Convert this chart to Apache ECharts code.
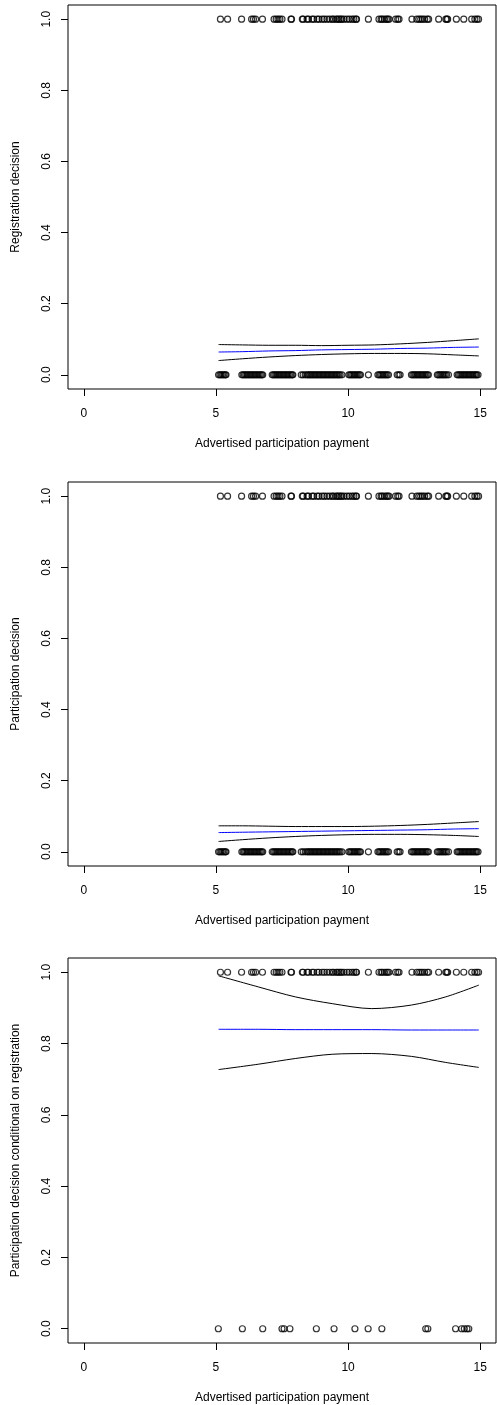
<!DOCTYPE html>
<html>
<head>
<meta charset="utf-8">
<script src="https://cdn.jsdelivr.net/npm/echarts@6/dist/echarts.min.js"></script>
<style>
html,body{margin:0;padding:0;background:#fff;}
#chart{width:497px;height:1405px;}
</style>
</head>
<body>
<div id="chart"></div>
<script>
// ---- data ----
const xTicks = [0, 5, 10, 15];
const yTicks = [0, 0.2, 0.4, 0.6, 0.8, 1.0];
const xTitle = "Advertised participation payment";
const yTitles = ["Registration decision", "Participation decision", "Participation decision conditional on registration"];

// x of observations with outcome 1 (registered / participated)
const onesX = [5.17, 5.44, 5.97, 6.35, 6.42, 6.5, 6.76, 7.2, 7.28, 7.35, 7.42, 7.5, 7.84, 7.86,
  8.27, 8.3, 8.45, 8.5, 8.64, 8.7, 8.83, 8.9, 9.02, 9.1, 9.2, 9.3, 9.4, 9.45, 9.55, 9.6, 9.66, 9.72, 9.77, 9.85, 9.96, 10.05, 10.15, 10.22, 10.3, 10.32,
  10.77, 11.17, 11.25, 11.3, 11.38, 11.45, 11.5, 11.55, 11.8, 11.88, 11.93,
  12.42, 12.6, 12.68, 12.75, 12.82, 12.9, 13.0, 13.05, 13.43, 13.7, 13.74, 13.77, 14.1, 14.38, 14.68, 14.8, 14.88, 14.94];

// x of observations with outcome 0 (panels 1 and 2)
const zerosX = [5.1, 5.15, 5.2, 5.25, 5.3, 5.35, 5.38,
  5.98, 6.03, 6.08, 6.13, 6.18, 6.23, 6.28, 6.33, 6.38, 6.43, 6.48, 6.53, 6.58, 6.63, 6.68, 6.73, 6.77,
  7.13, 7.18, 7.23, 7.28, 7.33, 7.38, 7.43, 7.48, 7.53, 7.58, 7.63, 7.68, 7.73, 7.78, 7.83, 7.88, 7.91,
  8.23, 8.3, 8.38, 8.45, 8.5, 8.55, 8.6, 8.65, 8.7, 8.75, 8.8, 8.85, 8.9, 8.95, 9.0, 9.05, 9.1, 9.15, 9.2, 9.25,
  9.3, 9.35, 9.4, 9.45, 9.5, 9.55, 9.6, 9.65, 9.7, 9.77,
  10.03, 10.08, 10.13, 10.18, 10.23, 10.28, 10.33, 10.38, 10.43, 10.47,
  10.77,
  11.13, 11.18, 11.23, 11.28, 11.33, 11.38, 11.43, 11.48, 11.53,
  11.86, 11.92, 11.97,
  12.4, 12.45, 12.5, 12.55, 12.6, 12.65, 12.7, 12.75, 12.8, 12.85, 12.9, 12.95, 13.0, 13.04,
  13.38, 13.43, 13.48, 13.53, 13.58, 13.63, 13.68, 13.73, 13.8,
  14.13, 14.18, 14.23, 14.28, 14.33, 14.38, 14.43, 14.48, 14.53, 14.58, 14.63, 14.68, 14.73, 14.78, 14.83, 14.87, 14.92];

// x of registered observations that did not participate (panel 3)
const condZerosX = [5.09, 6.0, 6.77, 7.5, 7.58, 7.8, 8.8, 9.47, 10.26, 10.76, 11.28, 12.94, 13.02, 14.07, 14.3, 14.4, 14.5, 14.57];

// fitted curves
const curveX = [5.1, 6, 7, 8, 9, 10, 11, 12, 13, 14, 14.95];
const fit1 = [0.064, 0.065, 0.067, 0.068, 0.070, 0.071, 0.072, 0.074, 0.075, 0.077, 0.078];
const up1  = [0.085, 0.084, 0.083, 0.083, 0.082, 0.083, 0.084, 0.087, 0.091, 0.096, 0.101];
const lo1  = [0.040, 0.045, 0.050, 0.054, 0.057, 0.059, 0.060, 0.060, 0.059, 0.056, 0.053];
const fit2 = [0.054, 0.055, 0.056, 0.057, 0.058, 0.059, 0.060, 0.061, 0.062, 0.064, 0.065];
const up2  = [0.073, 0.073, 0.072, 0.071, 0.071, 0.071, 0.072, 0.074, 0.077, 0.081, 0.085];
const lo2  = [0.029, 0.034, 0.039, 0.043, 0.046, 0.048, 0.049, 0.049, 0.048, 0.046, 0.043];

const curveX3 = [5.1, 6.6, 8.0, 9.4, 10.9, 12.4, 13.7, 14.95];
const fit3 = [0.840, 0.840, 0.839, 0.839, 0.839, 0.838, 0.838, 0.838];
const up3  = [0.990, 0.959, 0.931, 0.912, 0.898, 0.908, 0.931, 0.964];
const lo3  = [0.727, 0.742, 0.758, 0.770, 0.772, 0.764, 0.747, 0.733];

// ---- chart ----
const FONT = "'Liberation Sans', Arial, sans-serif";
const grids = [
  {left: 68, top: 5, width: 428, height: 384},
  {left: 68, top: 482, width: 428, height: 384},
  {left: 68, top: 958, width: 428, height: 385}
];
const zip = (xs, ys) => xs.map((x, i) => [x, ys[i]]);
const pts = (xs, y) => xs.map(x => [x, y]);

const option = {
  animation: false,
  backgroundColor: '#fff',
  grid: grids.map(g => Object.assign({show: true, borderColor: '#000', borderWidth: 1, backgroundColor: 'transparent'}, g)),
  xAxis: grids.map((g, i) => ({
    type: 'value', gridIndex: i, min: -0.6, max: 15.6,
    name: xTitle, nameLocation: 'middle', nameGap: 49,
    nameTextStyle: {fontFamily: FONT, fontSize: 12, color: '#000'},
    axisLine: {show: false, onZero: false},
    axisTick: {show: true, length: 7, lineStyle: {color: '#000'}, customValues: xTicks},
    axisLabel: {fontFamily: FONT, fontSize: 12, color: '#000', margin: 19, customValues: xTicks},
    splitLine: {show: false}
  })),
  yAxis: grids.map((g, i) => ({
    type: 'value', gridIndex: i, min: -0.04, max: 1.04,
    name: yTitles[i], nameLocation: 'middle', nameGap: 46, nameRotate: 90,
    nameTextStyle: {fontFamily: FONT, fontSize: 12, color: '#000'},
    axisLine: {show: false, onZero: false},
    axisTick: {show: true, length: 7, lineStyle: {color: '#000'}, customValues: yTicks},
    axisLabel: {fontFamily: FONT, fontSize: 12, color: '#000', margin: 15, rotate: 90,
      customValues: yTicks, formatter: v => v.toFixed(1)},
    splitLine: {show: false}
  })),
  series: []
};

function scatter(i, data) {
  return {type: 'scatter', xAxisIndex: i, yAxisIndex: i, data: data, symbol: 'circle', symbolSize: 6,
    itemStyle: {color: 'rgba(0,0,0,0)', borderColor: '#000', borderWidth: 1.2}, silent: true};
}
function line(i, xs, ys, color) {
  return {type: 'line', xAxisIndex: i, yAxisIndex: i, data: zip(xs, ys), showSymbol: false, symbol: 'none',
    smooth: 0.3, lineStyle: {color: color, width: 1}, silent: true};
}

option.series.push(scatter(0, pts(onesX, 1)), scatter(0, pts(zerosX, 0)),
  line(0, curveX, up1, '#000'), line(0, curveX, lo1, '#000'), line(0, curveX, fit1, '#0000ff'));
option.series.push(scatter(1, pts(onesX, 1)), scatter(1, pts(zerosX, 0)),
  line(1, curveX, up2, '#000'), line(1, curveX, lo2, '#000'), line(1, curveX, fit2, '#0000ff'));
option.series.push(scatter(2, pts(onesX, 1)), scatter(2, pts(condZerosX, 0)),
  line(2, curveX3, up3, '#000'), line(2, curveX3, lo3, '#000'), line(2, curveX3, fit3, '#0000ff'));

const chart = echarts.init(document.getElementById('chart'), null, {renderer: 'canvas'});
chart.setOption(option);
</script>
</body>
</html>
